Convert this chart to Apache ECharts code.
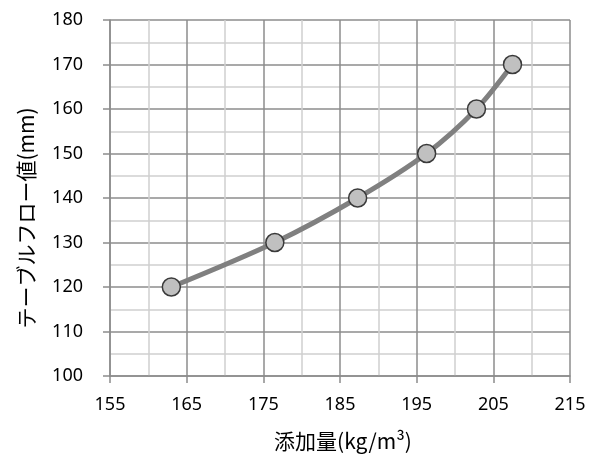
<!DOCTYPE html>
<html>
<head>
<meta charset="utf-8">
<script src="https://cdn.jsdelivr.net/npm/echarts@6/dist/echarts.min.js"></script>
<style>
  html, body { margin: 0; padding: 0; background: #fff; }
  #chart { width: 594px; height: 456px; }
</style>
</head>
<body>
<div id="chart"></div>
<script>
// Additive dosage (kg/m³) vs. table flow value (mm)
const dosage = [163, 176.5, 187.3, 196.3, 202.8, 207.5];
const flow = [120, 130, 140, 150, 160, 170];

const xMin = 155, xMax = 215, xStep = 10;
const yMin = 100, yMax = 180, yStep = 10;

const font = '"Segoe UI", "Noto Sans", "Noto Sans CJK JP", sans-serif';
const cjkFont = '"Noto Sans CJK JP", "Noto Sans", sans-serif';
const majorColor = '#8c8c8c';
const minorColor = '#d0d0d0';

const chart = echarts.init(document.getElementById('chart'));
chart.setOption({
  animation: false,
  grid: { left: 110, right: 24, top: 20, bottom: 80, containLabel: false, outerBoundsMode: 'none' },
  graphic: [{
    type: 'text',
    x: 26, y: 218,
    rotation: Math.PI / 2,
    style: {
      text: 'テーブルフロー値(mm)',
      fontFamily: cjkFont, fontSize: 21, fill: '#000',
      textAlign: 'center', textVerticalAlign: 'middle'
    }
  }],
  xAxis: {
    type: 'value',
    min: xMin, max: xMax, interval: xStep,
    name: '添加量(kg/m³)',
    nameLocation: 'middle',
    nameGap: 55,
    nameTextStyle: { fontFamily: cjkFont, fontSize: 21, color: '#000', padding: [0, 0, 0, 6] },
    axisLine: { show: true, lineStyle: { color: majorColor, width: 1.5 } },
    axisTick: { show: true, length: 7, lineStyle: { color: majorColor, width: 1.5 } },
    axisLabel: { fontFamily: font, fontSize: 18, color: '#000', margin: 20 },
    splitLine: { show: true, lineStyle: { color: majorColor, width: 1.5 } },
    minorTick: { show: false, splitNumber: 2 },
    minorSplitLine: { show: true, lineStyle: { color: minorColor, width: 1.5 } }
  },
  yAxis: {
    type: 'value',
    min: yMin, max: yMax, interval: yStep,
    axisLine: { show: true, lineStyle: { color: majorColor, width: 1.5 } },
    axisTick: { show: true, length: 7, lineStyle: { color: majorColor, width: 1.5 } },
    axisLabel: { fontFamily: font, fontSize: 18, color: '#000', margin: 27 },
    splitLine: { show: true, lineStyle: { color: majorColor, width: 1.5 } },
    minorTick: { show: false, splitNumber: 2 },
    minorSplitLine: { show: true, lineStyle: { color: minorColor, width: 1.5 } }
  },
  series: [{
    type: 'line',
    data: dosage.map((x, i) => [x, flow[i]]),
    smooth: 0.3,
    symbol: 'circle',
    symbolSize: 18,
    lineStyle: { color: '#808080', width: 5 },
    itemStyle: { color: '#c0c0c0', borderColor: '#3a3a3a', borderWidth: 1.5 }
  }]
});
</script>
</body>
</html>
